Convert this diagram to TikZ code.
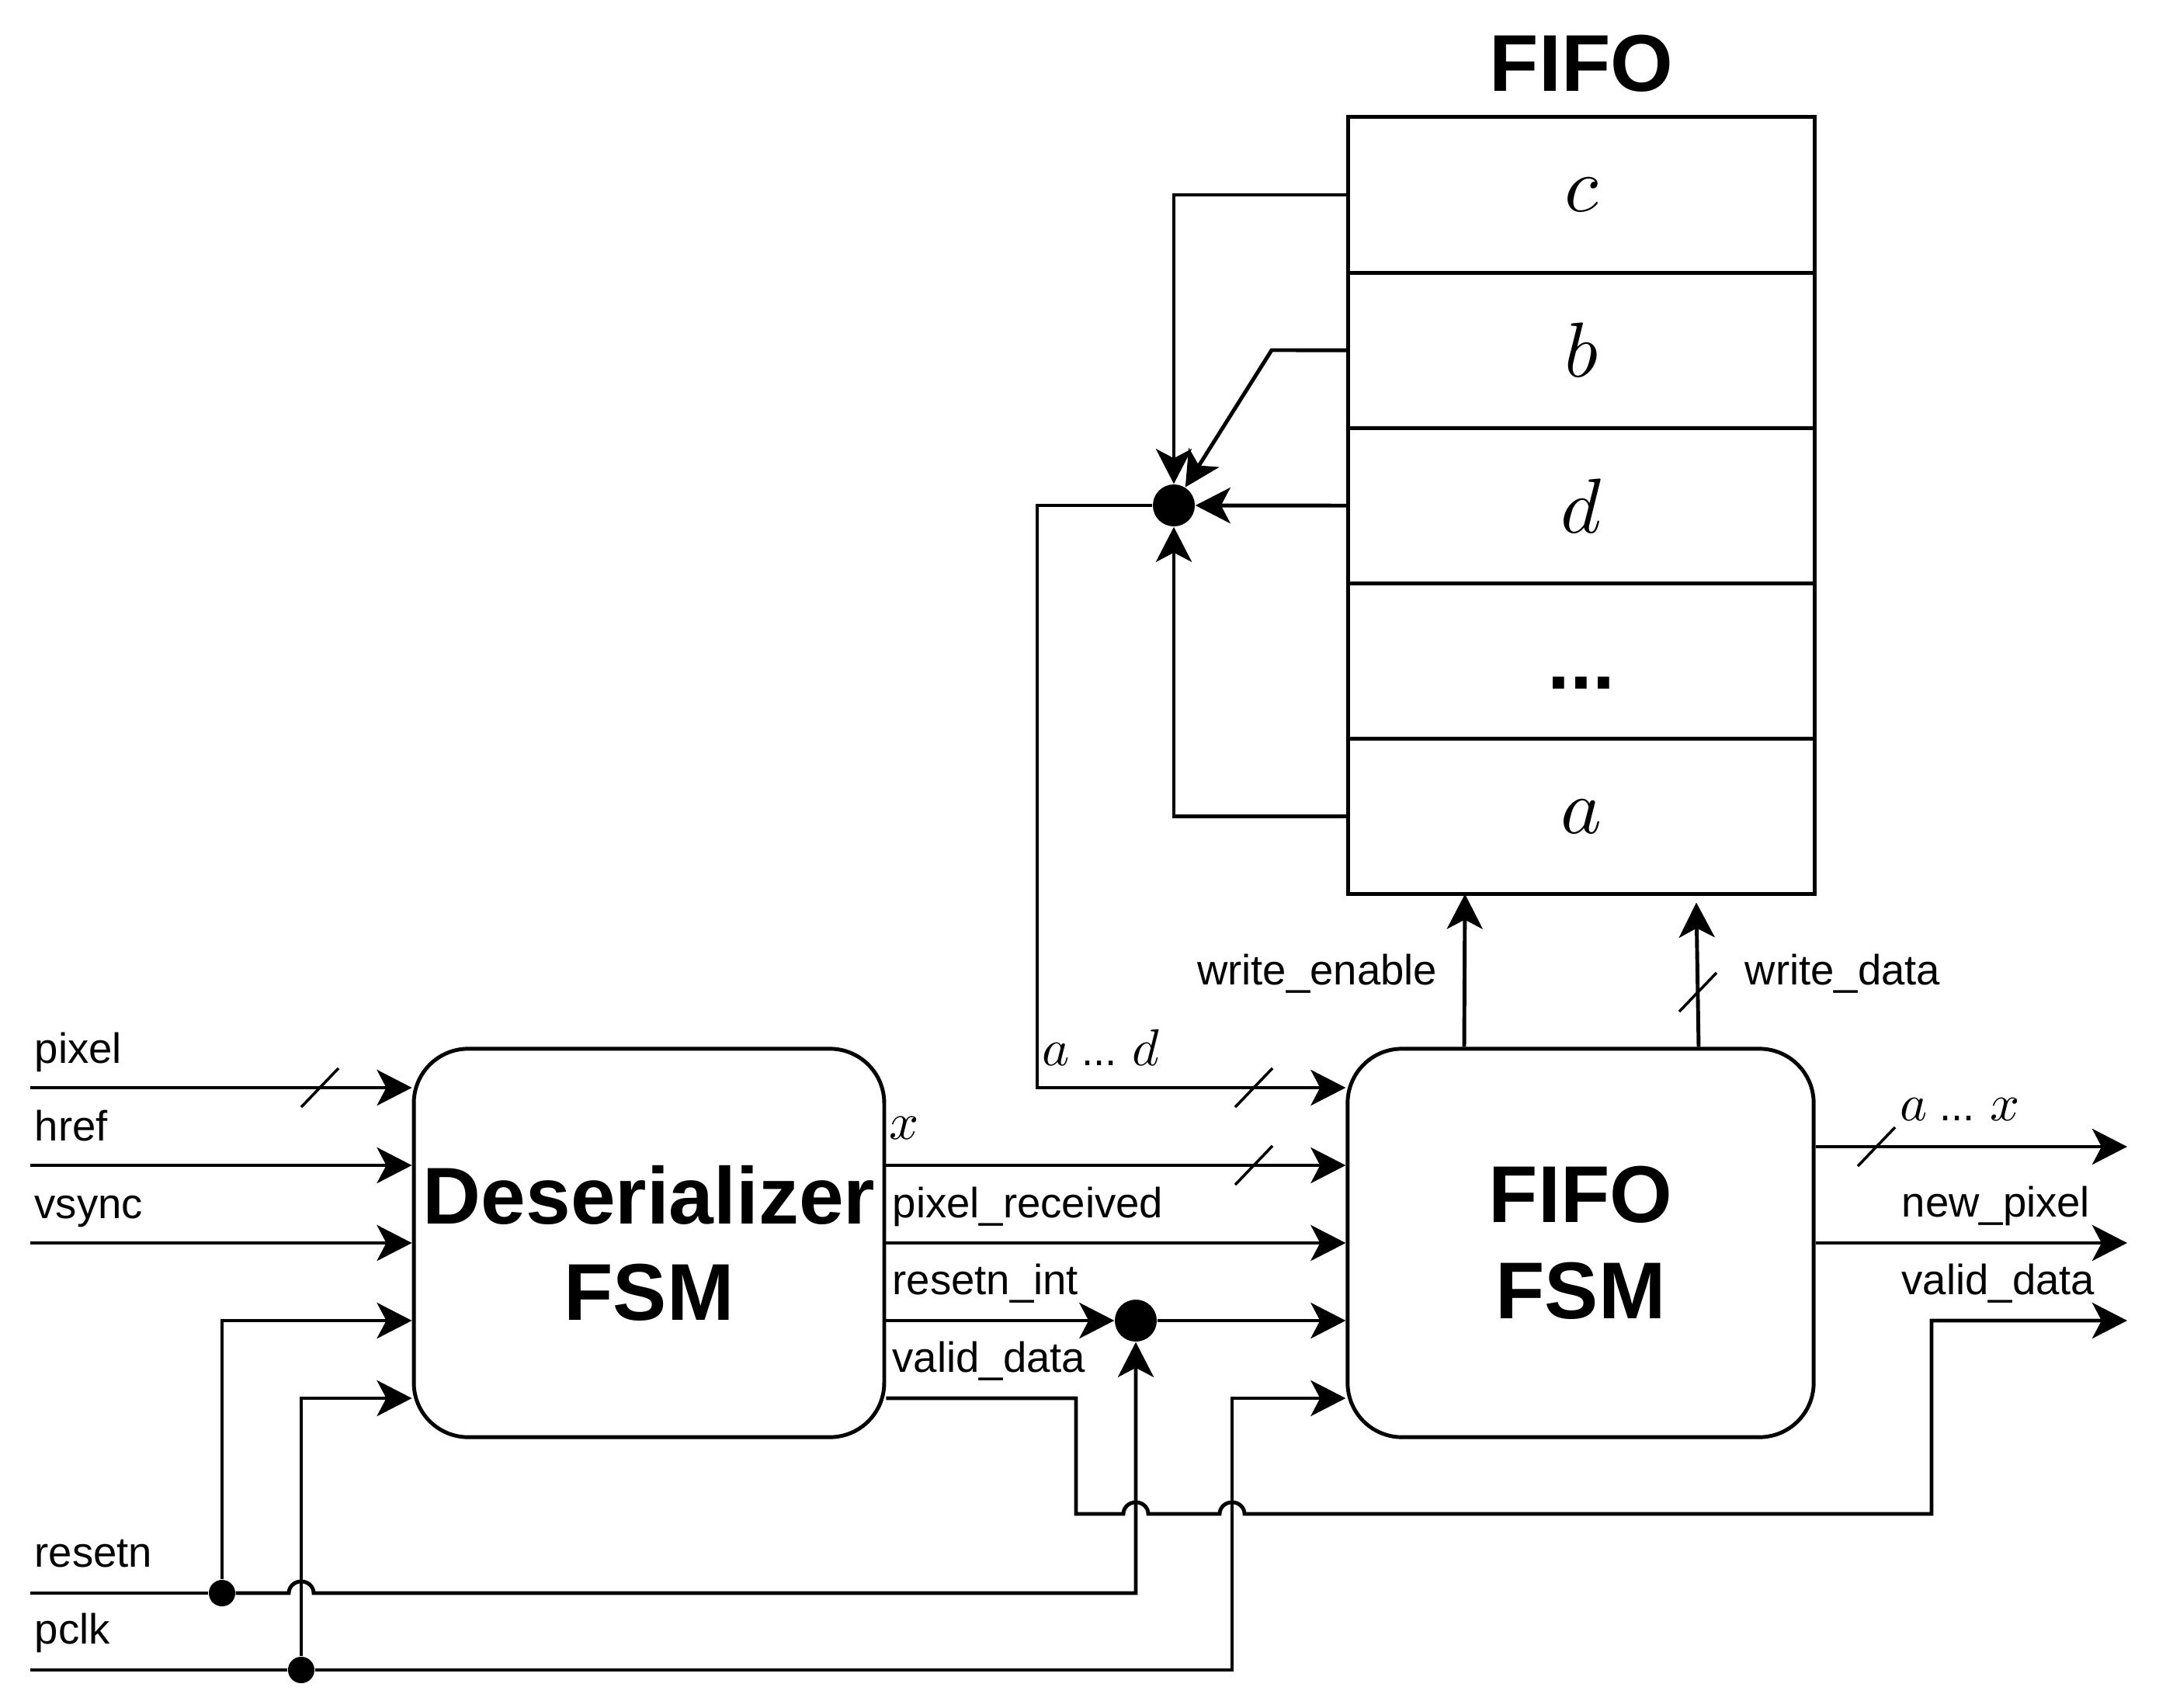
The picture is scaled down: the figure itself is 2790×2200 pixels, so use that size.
\RequirePackage{fix-cm}
\documentclass[tikz,border=0pt]{standalone}
\usepackage[no-math]{fontspec}
\setmainfont{Liberation Sans}
\usepackage{tikz}
\usetikzlibrary{arrows.meta, positioning, calc}
\tikzset{
  fsm/.style={rectangle, rounded corners=0.7cm, draw, line width=1.4pt,
    minimum width=6cm, minimum height=5cm, align=center,
    font=\fontsize{29.5}{35.3}\selectfont\bfseries},
  cell/.style={rectangle, draw, line width=1.4pt, outer sep=0pt, inner sep=0pt,
    minimum width=6cm, minimum height=2cm},
  memtitle/.style={font=\fontsize{29.5}{35.3}\selectfont\bfseries, inner sep=0pt},
  lbl/.style={font=\fontsize{15.5}{18.6}\selectfont, inner sep=0pt},
  bigdot/.style={circle, fill, inner sep=0pt, minimum size=0.54cm},
  smalldot/.style={circle, fill, inner sep=0pt, minimum size=0.34cm},
  wire/.style={line width=1.4pt},
  ar/.style={-{Stealth[length=0.45cm, width=0.46cm, inset=0.12cm]}, line width=1.4pt},
  slash/.style={line width=1pt},
}
\newcommand{\busmark}[1]{\draw[slash] #1 ++(-0.24cm,-0.25cm) -- ++(0.48cm,0.5cm);}
\newcommand{\mvar}[1]{\scalebox{1.9}{\fontsize{10}{12}\selectfont$#1$}}
\newcommand{\cvar}[1]{\scalebox{2.85}{\fontsize{10}{12}\selectfont$#1$}}

\begin{document}
\begin{tikzpicture}[x=0.01cm, y=-0.01cm]
  \useasboundingbox (0,0) rectangle (2790,2200);
  \node[fsm] (des) at (836,1601) {Deserializer\\FSM};
  \node[fsm] (ff) at (2036,1601) {FIFO\\FSM};
  \node[cell] (cc) at (2037,251) {\cvar{c}};
  \node[cell, below=0pt of cc] (cb) {\cvar{b}};
  \node[cell, below=0pt of cb] (cd) {\cvar{d}};
  \node[cell, below=0pt of cd] (cx) {\fontsize{29.5}{35.3}\selectfont\bfseries\vphantom{F}...};
  \node[cell, below=0pt of cx] (ca) {\cvar{a}};
  \node[memtitle, anchor=base] (fifo) at (2037,118) {FIFO};

  \node[bigdot] (mux) at (1512,651) {};
  \node[bigdot] (jn) at (1463,1701) {};
  \node[smalldot] (jr) at (286,2052) {};
  \node[smalldot] (jc) at (388,2151) {};

  \coordinate (pixin) at (39,1401);
  \coordinate (hrefin) at (39,1501);
  \coordinate (vsin) at (39,1601);
  \coordinate (rstin) at (39,2052);
  \coordinate (clkin) at (39,2151);
  \coordinate (axout) at (2740,1477);
  \coordinate (npout) at (2740,1601);
  \coordinate (vdout) at (2740,1701);
  \coordinate (bk) at (1638,451);
  \coordinate (adb) at (1336,651);
  \coordinate (cbk) at (1587,2151);
  \coordinate (vd1) at (1386,1950);
  \coordinate (vd2) at (2488,1950);

  \draw[ar] (pixin) -- (pixin -| des.west);
  \draw[ar] (hrefin) -- (hrefin -| des.west);
  \draw[ar] (vsin) -- (vsin -| des.west);
  \draw[wire] (rstin) -- (jr);
  \draw[ar] (jr) |- ($(des.west)+(0,100)$);
  \draw[ar] (jr) -- ($(jr -| jc)+(-16,0)$) arc[start angle=180, end angle=0, x radius=0.16cm, y radius=0.15cm] -- (jr -| jn) -- (jn);
  \draw[wire] (clkin) -- (jc);
  \draw[ar] (jc) |- ($(des.west)+(0,200)$);
  \draw[ar] (jc) -- (cbk) |- ($(ff.west)+(0,200)$);

  \draw[ar] ($(des.east)+(0,-100)$) -- ($(ff.west)+(0,-100)$);
  \draw[ar] (des.east) -- (ff.west);
  \draw[ar] ($(des.east)+(0,100)$) -- (jn);
  \draw[ar] (jn) -- ($(ff.west)+(0,100)$);
  \draw[ar] ($(des.east)+(0,200)$) -| (vd1) -- ($(vd1 -| jn)+(-16,0)$) arc[start angle=180, end angle=0, x radius=0.16cm, y radius=0.15cm] -- ($(vd1 -| cbk)+(-16,0)$) arc[start angle=180, end angle=0, x radius=0.16cm, y radius=0.15cm] -- (vd2) |- (vdout);

  \draw[ar] ($(ff.east)+(0,-124)$) -- (axout);
  \draw[ar] (ff.east) -- (npout);

  \draw[ar] (cc.west) -| (mux);
  \draw[ar] (cb.west) -- (bk) -- (mux);
  \draw[ar] (cd.west) -- (mux);
  \draw[ar] (ca.west) -| (mux);
  \draw[ar] (mux) -- (adb) |- ($(ff.west)+(0,-200)$);
  \draw[ar] ($(ff.north)+(-150,0)$) -- ($(ca.south)+(-150,0)$);
  \draw[ar] ($(ff.north)+(152,0)$) -- ($(ca.south)+(148,11)$);

  \busmark{(412,1401)}
  \busmark{(1615,1401)}
  \busmark{(1615,1501)}
  \busmark{(2417,1477)}
  \busmark{(2187,1278)}

  \node[lbl, anchor=base west] (lpix) at (44,1369) {pixel};
  \node[lbl, anchor=base west] (lhref) at (44,1469) {href};
  \node[lbl, anchor=base west] (lvs) at (44,1569) {vsync};
  \node[lbl, anchor=base west] (lrst) at (44,2018) {resetn};
  \node[lbl, anchor=base west] (lclk) at (44,2117) {pclk};
  \node[lbl, anchor=base west] (lx) at (1145,1467) {\mvar{x}};
  \node[lbl, anchor=base west] (lpr) at (1149,1568) {pixel\_received};
  \node[lbl, anchor=base west] (lri) at (1149,1667) {resetn\_int};
  \node[lbl, anchor=base west] (lvd) at (1149,1767) {valid\_data};
  \node[lbl, anchor=base west] (lad) at (1342,1372) {\mvar{a} ... \mvar{d}};
  \node[lbl, anchor=base west] (lax) at (2447,1443) {\mvar{a} ... \mvar{x}};
  \node[lbl, anchor=base west] (lnp) at (2449,1567) {new\_pixel};
  \node[lbl, anchor=base west] (lvo) at (2449,1667) {valid\_data};
  \node[lbl, anchor=base east] (lwe) at (1852,1268) {write\_enable};
  \node[lbl, anchor=base west] (lwd) at (2247,1268) {write\_data};
\end{tikzpicture}
\end{document}
